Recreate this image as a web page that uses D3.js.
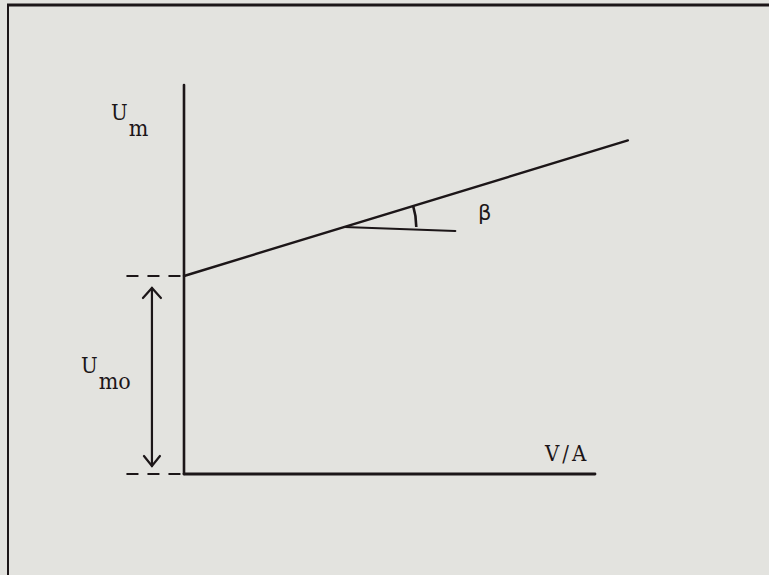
<!DOCTYPE html>
<html>
<head>
<meta charset="utf-8">
<script src="https://cdn.jsdelivr.net/npm/d3@7"></script>
<style>
  html, body { margin: 0; padding: 0; background: #e3e3df; }
  svg { display: block; }
  text { fill: #1c1618; font-family: "DejaVu Serif", "Liberation Serif", serif; font-stretch: condensed; }
</style>
</head>
<body>
<script>
// Schematic: U_m rises linearly with V/A from the intercept U_mo, slope angle beta.
const axisV = [0, 10];        // extent of the V/A axis
const axisU = [0, 3.93];      // extent of the U_m axis
const Umo = 2;                // intercept on the U_m axis
const lineV = [0, 10.8];      // span of the fitted line
const lineU = [2, 3.37];      // U_m at the ends of that span
const betaV = 3.9;            // where the angle beta is marked
const betaRefEnd = 6.6;       // end of the horizontal reference stroke
const labels = { um: ["U", "m"], umo: ["U", "mo"], va: "V/A", beta: "β" };

const W = 769, H = 575;
const ink = "#1c1618";

const svg = d3.select("body").append("svg")
  .attr("width", W).attr("height", H);

// outer frame (top and left edges)
svg.append("line").attr("x1", 7).attr("x2", W).attr("y1", 5).attr("y2", 5)
  .attr("stroke", ink).attr("stroke-width", 2.8);
svg.append("line").attr("x1", 8).attr("x2", 8).attr("y1", 5).attr("y2", H)
  .attr("stroke", ink).attr("stroke-width", 2);

const x = d3.scaleLinear().domain([0, 10]).range([184, 595]);
const y = d3.scaleLinear().domain([0, 1]).range([474, 375]);

const g = svg.append("g").attr("stroke", ink).attr("fill", "none")
  .attr("stroke-linecap", "round");

// axes
g.append("line").attr("x1", x(0)).attr("x2", x(0))
  .attr("y1", y(axisU[0])).attr("y2", y(axisU[1])).attr("stroke-width", 2.6);
g.append("line").attr("x1", x(axisV[0])).attr("x2", x(axisV[1]))
  .attr("y1", y(0)).attr("y2", y(0)).attr("stroke-width", 2.8);

// the U_m(V/A) line
const lineGen = d3.line().x(d => x(d[0])).y(d => y(d[1]));
g.append("path").attr("d", lineGen(d3.zip(lineV, lineU))).attr("stroke-width", 2.4);

// dashed guides at the intercept and at zero
const dashL = -1.4;
[Umo, 0].forEach(u => {
  g.append("line").attr("x1", x(dashL)).attr("x2", x(0) - 2)
    .attr("y1", y(u)).attr("y2", y(u))
    .attr("stroke-width", 2.2).attr("stroke-dasharray", "12 9").attr("stroke-linecap", "butt");
});

// double arrow spanning U_mo
const ax = x(-0.78);
const yTop = y(Umo) + 12, yBot = y(0) - 8;
g.append("line").attr("x1", ax).attr("x2", ax).attr("y1", yTop).attr("y2", yBot).attr("stroke-width", 2.2);
const head = 10;
g.append("path").attr("d", `M${ax - 9},${yTop + head} L${ax},${yTop} L${ax + 9},${yTop + head}`).attr("stroke-width", 2.2);
g.append("path").attr("d", `M${ax - 8},${yBot - head} L${ax},${yBot} L${ax + 8},${yBot - head}`).attr("stroke-width", 2.2);

// angle beta: horizontal reference and arc
const slope = (lineU[1] - lineU[0]) / (lineV[1] - lineV[0]);
const uB = lineU[0] + slope * (betaV - lineV[0]);
const cx = x(betaV), cy = y(uB);
g.append("line").attr("x1", cx).attr("x2", x(betaRefEnd))
  .attr("y1", cy).attr("y2", cy + 4).attr("stroke-width", 2.2);
const ang = Math.atan2(y(lineU[0]) - y(lineU[1]), x(lineV[1]) - x(lineV[0]));
const r = 72;
const arc = d3.arc().innerRadius(r).outerRadius(r)
  .startAngle(Math.PI / 2 - ang).endAngle(Math.PI / 2);
g.append("path").attr("d", arc()).attr("transform", `translate(${cx},${cy})`).attr("stroke-width", 2.6);

// labels
function subLabel(px, py, main, sub) {
  const t = svg.append("text").attr("x", px).attr("y", py).attr("font-size", 22);
  t.append("tspan").text(main);
  t.append("tspan").attr("dy", 16).attr("dx", 1).attr("font-size", 23).text(sub);
}
subLabel(111, 120, labels.um[0], labels.um[1]);
subLabel(81, 373, labels.umo[0], labels.umo[1]);
svg.append("text").attr("x", 545).attr("y", 461).attr("font-size", 22)
  .attr("letter-spacing", 3).text(labels.va);
svg.append("text").attr("x", 478).attr("y", 220).attr("font-size", 21)
  .style("font-family", "'DejaVu Sans', sans-serif").style("font-stretch", "normal").text(labels.beta);
</script>
</body>
</html>
